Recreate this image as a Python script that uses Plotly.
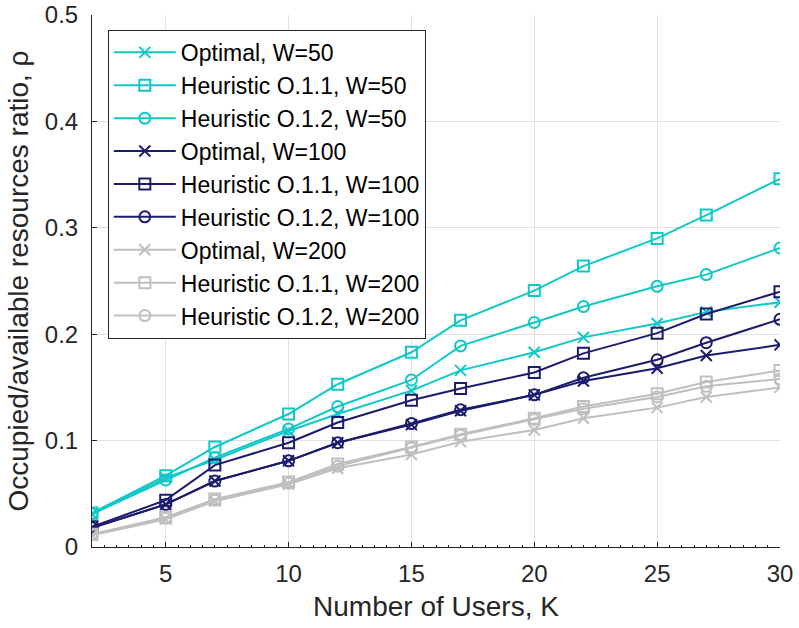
import plotly.graph_objects as go

# Number of users K
users = [2, 5, 7, 10, 12, 15, 17, 20, 22, 25, 27, 30]

# Occupied/available resources ratio for W = 50
opt_w50 = [0.031, 0.065, 0.082, 0.109, 0.125, 0.147, 0.166, 0.183, 0.197, 0.210, 0.221, 0.230]
h11_w50 = [0.032, 0.067, 0.094, 0.125, 0.153, 0.183, 0.213, 0.241, 0.264, 0.290, 0.312, 0.346]
h12_w50 = [0.031, 0.063, 0.084, 0.111, 0.132, 0.157, 0.189, 0.211, 0.226, 0.245, 0.256, 0.281]

# W = 100
opt_w100 = [0.018, 0.040, 0.062, 0.081, 0.098, 0.115, 0.128, 0.143, 0.156, 0.168, 0.180, 0.190]
h11_w100 = [0.019, 0.044, 0.077, 0.098, 0.117, 0.138, 0.149, 0.164, 0.182, 0.201, 0.219, 0.240]
h12_w100 = [0.018, 0.040, 0.062, 0.081, 0.098, 0.116, 0.129, 0.143, 0.159, 0.176, 0.192, 0.214]

# W = 200
opt_w200 = [0.011, 0.026, 0.043, 0.059, 0.074, 0.087, 0.099, 0.110, 0.121, 0.131, 0.141, 0.150]
h11_w200 = [0.012, 0.028, 0.045, 0.061, 0.078, 0.094, 0.106, 0.121, 0.132, 0.144, 0.155, 0.166]
h12_w200 = [0.012, 0.027, 0.044, 0.060, 0.076, 0.093, 0.105, 0.120, 0.130, 0.141, 0.151, 0.158]

CYAN = "#10C8C8"
NAVY = "#1C1C6E"
GRAY = "#BFBFBF"

series = [
    ("Optimal, W=50", opt_w50, CYAN, "x-thin-open"),
    ("Heuristic O.1.1, W=50", h11_w50, CYAN, "square-open"),
    ("Heuristic O.1.2, W=50", h12_w50, CYAN, "circle-open"),
    ("Optimal, W=100", opt_w100, NAVY, "x-thin-open"),
    ("Heuristic O.1.1, W=100", h11_w100, NAVY, "square-open"),
    ("Heuristic O.1.2, W=100", h12_w100, NAVY, "circle-open"),
    ("Optimal, W=200", opt_w200, GRAY, "x-thin-open"),
    ("Heuristic O.1.1, W=200", h11_w200, GRAY, "square-open"),
    ("Heuristic O.1.2, W=200", h12_w200, GRAY, "circle-open"),
]

fig = go.Figure()
for name, vals, color, sym in series:
    fig.add_trace(go.Scatter(
        x=users, y=vals, name=name, mode="lines+markers",
        line=dict(color=color, width=2),
        marker=dict(symbol=sym, size=11, color=color,
                    line=dict(color=color, width=2)),
    ))

FONT = "Liberation Sans, Arial, sans-serif"
tick_font = dict(family=FONT, size=24, color="#262626")
title_font = dict(family=FONT, size=28, color="#262626")

fig.update_layout(
    width=799, height=628,
    margin=dict(l=92, r=19, t=15, b=81, autoexpand=False),
    paper_bgcolor="white", plot_bgcolor="white",
    font=tick_font,
    showlegend=True,
    legend=dict(
        x=0.023, y=0.972, xanchor="left", yanchor="top",
        bgcolor="white", bordercolor="#262626", borderwidth=1,
        font=dict(family=FONT, size=23, color="black"),
        tracegroupgap=0, itemwidth=62,
    ),
)

fig.update_xaxes(
    range=[2, 30], tickvals=[5, 10, 15, 20, 25, 30],
    showgrid=True, gridcolor="#E0E0E0", gridwidth=1,
    showline=True, linecolor="#262626", linewidth=1,
    ticks="inside", ticklen=5, tickcolor="#262626",
    minor=dict(dtick=0.5, ticks="inside", ticklen=2, tickcolor="#262626", showgrid=False),
    zeroline=False, automargin=False, ticklabelstandoff=5,
    title=dict(text="Number of Users, K", font=title_font, standoff=10),
    tickfont=tick_font,
)
fig.update_yaxes(
    range=[0, 0.5], tickvals=[0, 0.1, 0.2, 0.3, 0.4, 0.5],
    ticktext=["0", "0.1", "0.2", "0.3", "0.4", "0.5"],
    showgrid=True, gridcolor="#E0E0E0", gridwidth=1,
    showline=True, linecolor="#262626", linewidth=1,
    ticks="inside", ticklen=5, tickcolor="#262626",
    zeroline=False, automargin=False, ticklabelstandoff=8,
    title=dict(text="Occupied/available resources ratio, ρ", font=title_font, standoff=8),
    tickfont=tick_font,
)

fig.write_html("out.html")
